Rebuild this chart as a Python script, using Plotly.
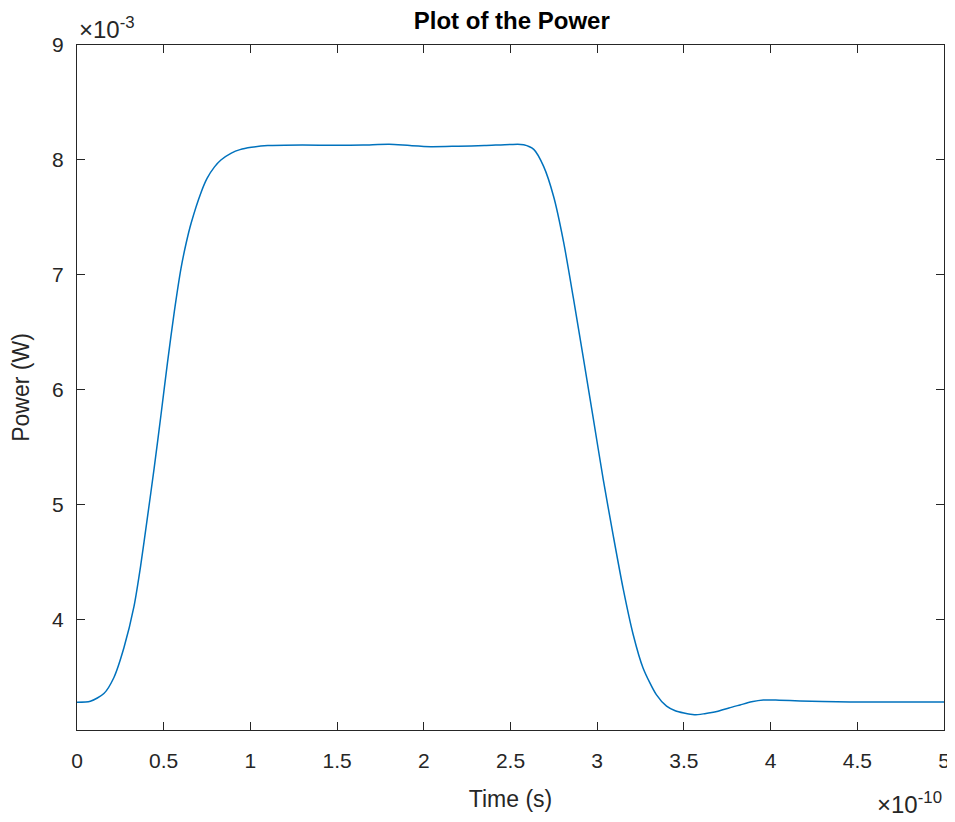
import plotly.graph_objects as go

# Time in units of 1e-10 s, power in units of 1e-3 W
time_e10 = [0.00, 0.077, 0.155, 0.213, 0.271, 0.329, 0.367, 0.406, 0.445, 0.484, 0.522,
            0.561, 0.60, 0.63, 0.658, 0.716, 0.75, 0.793, 0.83, 0.89, 0.94, 1.006, 1.10, 1.30,
            1.50, 1.65, 1.80, 1.92, 2.04, 2.20, 2.35, 2.50, 2.576, 2.634, 2.691, 2.749,
            2.806, 2.863, 2.921, 2.978, 3.035, 3.093, 3.15, 3.207, 3.265, 3.341, 3.40,
            3.45, 3.50, 3.56, 3.62, 3.69, 3.76, 3.824, 3.89, 3.958, 4.05, 4.17, 4.30,
            4.458, 4.70, 5.00]
power_e3 = [3.285, 3.293, 3.36, 3.50, 3.76, 4.12, 4.47, 4.89, 5.32, 5.78, 6.24,
            6.68, 7.06, 7.28, 7.45, 7.72, 7.84, 7.94, 8.00, 8.06, 8.09, 8.11, 8.125, 8.13,
            8.128, 8.13, 8.137, 8.125, 8.116, 8.12, 8.125, 8.135, 8.133, 8.092, 7.944, 7.68,
            7.288, 6.796, 6.27, 5.746, 5.221, 4.729, 4.27, 3.876, 3.58, 3.35, 3.25,
            3.21, 3.19, 3.175, 3.185, 3.203, 3.235, 3.261, 3.288, 3.304, 3.302, 3.296, 3.29,
            3.287, 3.287, 3.287]

x_ticks = [0, 0.5, 1, 1.5, 2, 2.5, 3, 3.5, 4, 4.5, 5]
x_tick_labels = ["0", "0.5", "1", "1.5", "2", "2.5", "3", "3.5", "4", "4.5", "5"]
y_ticks = [4, 5, 6, 7, 8, 9]
y_tick_labels = ["4", "5", "6", "7", "8", "9"]

FONT = "Liberation Sans, Arial, Helvetica, sans-serif"
AXC = "#262626"

fig = go.Figure()
fig.add_trace(go.Scatter(
    x=time_e10, y=power_e3, mode="lines",
    line=dict(color="#0072BD", width=1.5, shape="spline", smoothing=0.7),
    showlegend=False, hoverinfo="skip",
))

axis_common = dict(
    showline=True, linecolor=AXC, linewidth=1, mirror="ticks",
    ticks="inside", ticklen=8, tickwidth=1, tickcolor=AXC,
    showgrid=False, zeroline=False, automargin=False,
    tickfont=dict(family=FONT, size=21, color=AXC),
)

# The page body has an 8px default margin, so the figure is sized to fit the window.
fig.update_layout(
    width=947, height=814,
    paper_bgcolor="white", plot_bgcolor="white",
    margin=dict(l=69, r=11, t=37, b=92),
    title=dict(text="<b>Plot of the Power</b>", x=0.532, xanchor="center",
               y=0.984, yanchor="middle",
               font=dict(family=FONT, size=24, color="#000000")),
    xaxis=dict(range=[0, 5], tickvals=x_ticks, ticktext=x_tick_labels,
               ticklabelstandoff=12,
               title=dict(text="Time (s)", standoff=19,
                          font=dict(family=FONT, size=23, color=AXC)),
               **axis_common),
    yaxis=dict(range=[3.043, 9], tickvals=y_ticks, ticktext=y_tick_labels,
               ticklabelstandoff=8,
               title=dict(text="Power (W)", standoff=16,
                          font=dict(family=FONT, size=23, color=AXC)),
               **axis_common),
    annotations=[
        dict(text="×10<sup>-3</sup>", xref="paper", yref="paper", x=0, y=1,
             xanchor="left", yanchor="bottom", yshift=0, xshift=0, showarrow=False,
             font=dict(family=FONT, size=24, color=AXC)),
        dict(text="×10<sup>-10</sup>", xref="paper", yref="paper", x=1, y=0,
             xanchor="right", yanchor="top", yshift=-56, xshift=0, showarrow=False,
             font=dict(family=FONT, size=24, color=AXC)),
    ],
)

fig.write_html("out.html")
